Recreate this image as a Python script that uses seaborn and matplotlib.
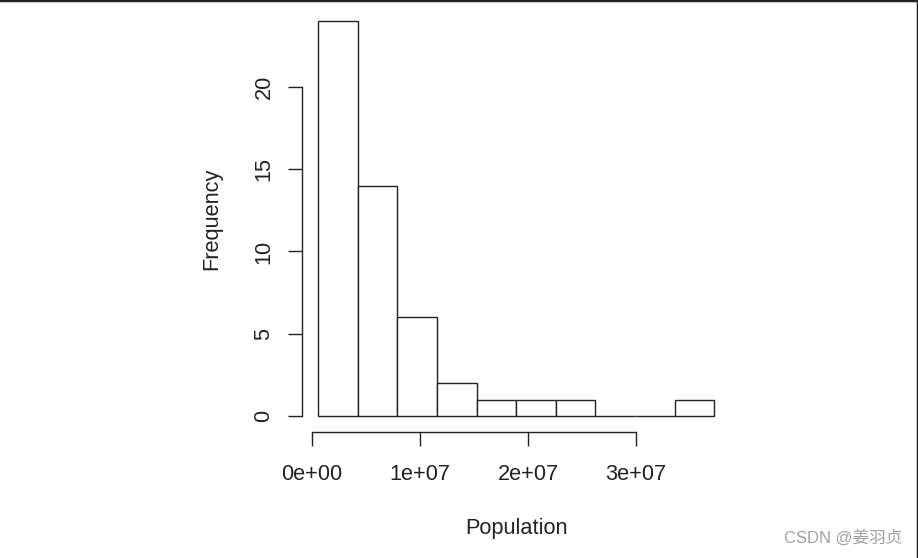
import matplotlib
matplotlib.use('Agg')
import matplotlib.pyplot as plt
import seaborn as sns
import numpy as np
from matplotlib.lines import Line2D

# Histogram of state populations (10 bins between min and max)
bin_edges = [563626, 4232659, 7901692, 11570725, 15239758, 18908791,
             22577824, 26246857, 29915890, 33584923, 37253956]
counts = [24, 14, 6, 2, 1, 1, 1, 0, 0, 1]
x_ticks = [0, 1e7, 2e7, 3e7]
x_tick_labels = ['0e+00', '1e+07', '2e+07', '3e+07']
y_ticks = [0, 5, 10, 15, 20]

centers = [(a + b) / 2 for a, b in zip(bin_edges[:-1], bin_edges[1:])]

sns.set_style('white')
plt.rcParams['font.family'] = ['Liberation Sans', 'DejaVu Sans']

fig = plt.figure(figsize=(9.18, 5.58), dpi=100)
ax = fig.add_axes([0.3292, 0.2262, 0.4662, 0.7641])

sns.histplot(x=centers, weights=counts, bins=bin_edges, color='white',
             edgecolor='#222222', linewidth=1.0, alpha=1, ax=ax)

ax.set_xlim(-0.091e7, 3.872e7)
ax.set_ylim(-0.96, 24.96)

for s in ['top', 'right']:
    ax.spines[s].set_visible(False)
ax.spines['left'].set_bounds(0, 20)
ax.spines['bottom'].set_bounds(0, 3e7)
for s in ['left', 'bottom']:
    ax.spines[s].set_color('#222222')
    ax.spines[s].set_linewidth(1.0)

fs = 15.7
ax.set_xticks(x_ticks)
ax.set_xticklabels(x_tick_labels)
ax.set_yticks(y_ticks)
ax.set_yticklabels([str(v) for v in y_ticks], rotation=90, va='center')
ax.tick_params(axis='both', direction='out', length=10, width=1.0,
               color='#222222', labelsize=fs, labelcolor='#222222')
ax.tick_params(axis='x', pad=13, bottom=True)
ax.tick_params(axis='y', pad=10, left=True)

ax.set_xlabel('Population', fontsize=fs, color='#222222', va='center')
ax.set_ylabel('Frequency', fontsize=fs, color='#222222', va='center')
ax.xaxis.set_label_coords(0.5, -0.228)
ax.yaxis.set_label_coords(-0.212, 0.5)

# frame edges of the screenshot
fig.add_artist(Line2D([0, 1], [1, 1], transform=fig.transFigure, color='#222222', lw=2.5))
fig.add_artist(Line2D([1, 1], [0, 1], transform=fig.transFigure, color='#222222', lw=2.5))

fig.text(0.983, 0.037, 'CSDN @姜羽贞', ha='right', va='center', fontsize=12,
         color='#a0a0a0', family=['Liberation Sans', 'Noto Sans CJK SC'])

fig.savefig('out.png', dpi=100)
